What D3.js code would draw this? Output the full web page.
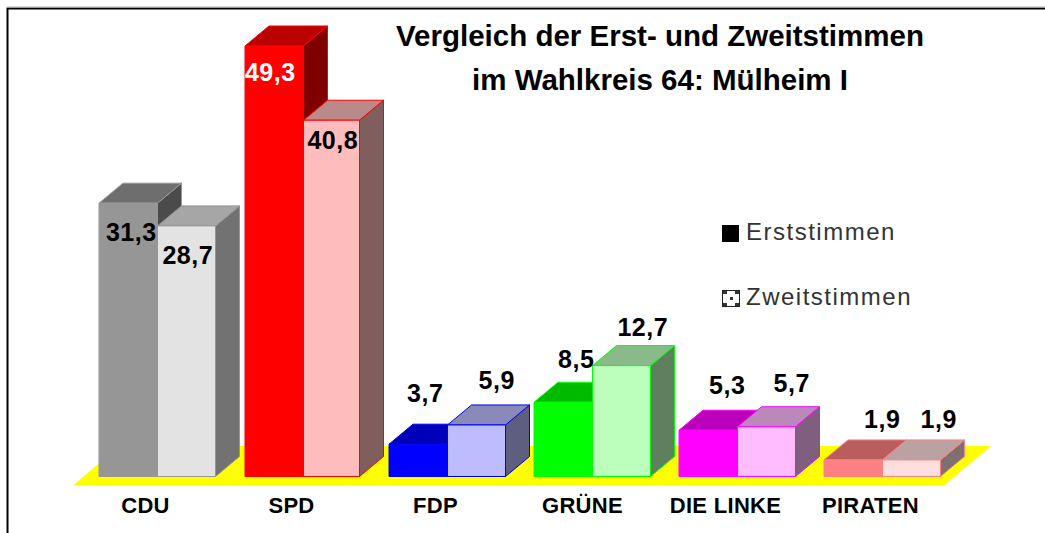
<!DOCTYPE html>
<html><head><meta charset="utf-8">
<script src="https://cdn.jsdelivr.net/npm/d3@7/dist/d3.min.js"></script>
<style>html,body{margin:0;padding:0;background:#fff;overflow:hidden}svg{display:block}text{font-family:"Liberation Sans",Arial,sans-serif}</style>
</head><body><svg id="c" width="1045" height="533"></svg>
<script>
const categories = ["CDU","SPD","FDP","GRÜNE","DIE LINKE","PIRATEN"];
const erststimmen = [31.3,49.3,3.7,8.5,5.3,1.9];
const zweitstimmen = [28.7,40.8,5.9,12.7,5.7,1.9];
const erstColors = ["#969696","#ff0000","#0000ff","#00ff00","#ff00ff","#ff8080"];
const zweitColors = ["#e3e3e3","#ffbcbc","#bcbcff","#bcffbc","#ffbcff","#ffdede"];
const seriesNames = ["Erststimmen","Zweitstimmen"];
const titleLines = ["Vergleich der Erst- und Zweitstimmen","im Wahlkreis 64: Mülheim I"];

// label placement relative to bar top: [dx, dy of text centre]
const erstLabelOffset = [[3,29],[-3,26],[7,-51],[13,-43],[19,-45],[29,-41]];
const zweitLabelOffset = [[1,29],[1,20],[20,-45],[21,-39],[25,-44],[27,-41]];
const labelNudge = [0,1,0,2,0,0];
const zweitWidth = [58,56,58,58,58,58];

const fmt = v => String(v.toFixed(1)).replace(".",",");
const svg = d3.select("#c");
const dx = 24, dy = 20;
const y = d3.scaleLinear().domain([0,49.3]).range([476.5,46]);
const x0 = d3.scaleBand().domain(categories).range([99,969]);
const barW = 58.5;

// frame
svg.append("path").attr("d","M7.5 533V8.5H1045").attr("fill","none").attr("stroke","#000").attr("stroke-width",2);
svg.append("path").attr("d","M7 7H1045").attr("stroke","#b4b4b4").attr("stroke-width",1);

// floor
svg.append("path").attr("d","M73 485.5H944L991 446H119Z").attr("fill","#ffff00");

// title
titleLines.forEach((t,i)=>svg.append("text").text(t).attr("x",660).attr("y",[46,90][i])
  .attr("text-anchor","middle").attr("font-size",29.5).attr("font-weight","bold").attr("fill","#000"));

function box(g,xl,w,v,color,stroke){
  const top=y(v), base=y(0), r=xl+w;
  const c=d3.rgb(color);
  const shade=k=>d3.rgb(c.r*k,c.g*k,c.b*k).formatHex();
  const attrs=s=>s.attr("stroke",stroke).attr("stroke-width",1).attr("stroke-linejoin","round");
  attrs(g.append("path").attr("d",`M${r} ${base}L${r+dx} ${base-dy}V${top-dy}L${r} ${top}Z`).attr("fill",shade(.5)));
  attrs(g.append("path").attr("d",`M${xl} ${top}L${xl+dx} ${top-dy}H${r+dx}L${r} ${top}Z`).attr("fill",shade(.73)));
  attrs(g.append("rect").attr("x",xl).attr("y",top).attr("width",w).attr("height",base-top).attr("fill",color));
}

const left = i => x0(categories[i]) + (i===1?1:0);
categories.forEach((cat,i)=>{
  const g=svg.append("g").datum(cat);
  box(g,left(i),barW,erststimmen[i],erstColors[i],erstColors[i]);
  box(g,left(i)+barW,zweitWidth[i],zweitstimmen[i],zweitColors[i],erstColors[i]);
});

const lab=(t,xx,yy,fill)=>svg.append("text").text(t).attr("x",xx).attr("y",yy).attr("dy","0.36em")
  .attr("text-anchor","middle").attr("font-size",25).attr("font-weight","bold").attr("fill",fill||"#000").attr("letter-spacing",0.5);
categories.forEach((cat,i)=>{
  const xl=x0(cat);
  lab(fmt(erststimmen[i]),xl+barW/2+erstLabelOffset[i][0],y(erststimmen[i])+erstLabelOffset[i][1],cat==="SPD"?"#fff":"#000");
  lab(fmt(zweitstimmen[i]),xl+barW*1.5+zweitLabelOffset[i][0],y(zweitstimmen[i])+zweitLabelOffset[i][1]);
  svg.append("text").text(cat).attr("x",xl+barW-12+labelNudge[i]).attr("y",513).attr("text-anchor","middle")
    .attr("font-size",22).attr("font-weight","bold").attr("letter-spacing",0.3).attr("fill","#000");
});

// legend
const legY=[232,297];
svg.append("rect").attr("x",722).attr("y",225).attr("width",17).attr("height",17).attr("fill","#000");
svg.append("rect").attr("x",722.5).attr("y",290.5).attr("width",17).attr("height",16).attr("fill","#fff").attr("stroke","#222");
svg.append("path").attr("d","M723 291h4v3h-4zM735 291h4v3h-4zM723 303h4v3h-4zM735 303h4v3h-4zM730 297h3v3h-3z").attr("fill","#333");
seriesNames.forEach((s,i)=>svg.append("text").text(s).attr("x",746).attr("y",legY[i]+8).attr("font-size",24)
  .attr("letter-spacing",1.5).attr("fill","#333"));
</script></body></html>
